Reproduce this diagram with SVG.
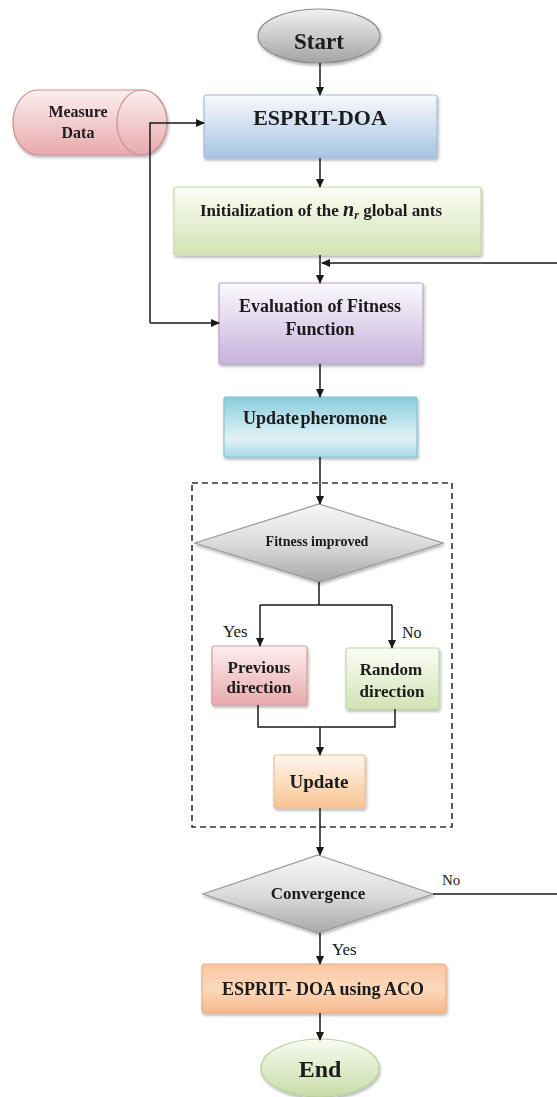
<svg xmlns="http://www.w3.org/2000/svg" width="557" height="1097" viewBox="0 0 557 1097">
<style>
.t{font-family:"Liberation Serif","Times New Roman",serif;font-weight:bold;fill:#1a1a1a;text-anchor:middle}
.l{font-family:"Liberation Serif","Times New Roman",serif;fill:#1a1a1a}
.c{fill:none;stroke:#1a1a1a;stroke-width:1.5}
.a{marker-end:url(#ah)}
.sh{filter:url(#ds)}
</style>
<defs>
<marker id="ah" markerWidth="9" markerHeight="8" refX="8" refY="4" orient="auto" markerUnits="userSpaceOnUse"><path d="M0,0 L9,4 L0,8 Z" fill="#1a1a1a"/></marker>
<filter id="ds" x="-10%" y="-10%" width="125%" height="130%"><feDropShadow dx="1" dy="2" stdDeviation="1.5" flood-color="#000" flood-opacity="0.3"/></filter>
<linearGradient id="gGray" x1="0" y1="0" x2="0" y2="1"><stop offset="0" stop-color="#f2f2f2"/><stop offset="1" stop-color="#a3a3a3"/></linearGradient>
<linearGradient id="gDia" x1="0" y1="0" x2="0" y2="1"><stop offset="0" stop-color="#f7f7f7"/><stop offset="0.5" stop-color="#dcdcdc"/><stop offset="1" stop-color="#a8a8a8"/></linearGradient>
<linearGradient id="gPink" x1="0" y1="0" x2="0" y2="1"><stop offset="0" stop-color="#fcefef"/><stop offset="1" stop-color="#e8a9ac"/></linearGradient>
<linearGradient id="gBlue" x1="0" y1="0" x2="0" y2="1"><stop offset="0" stop-color="#f7fafd"/><stop offset="1" stop-color="#a7c3e3"/></linearGradient>
<linearGradient id="gGreen" x1="0" y1="0" x2="0" y2="1"><stop offset="0" stop-color="#fbfdf6"/><stop offset="1" stop-color="#d2e3b3"/></linearGradient>
<linearGradient id="gPurp" x1="0" y1="0" x2="0" y2="1"><stop offset="0" stop-color="#fbf9fd"/><stop offset="1" stop-color="#c6b3dc"/></linearGradient>
<linearGradient id="gCyan" x1="0" y1="0" x2="0" y2="1"><stop offset="0" stop-color="#88cddd"/><stop offset="0.7" stop-color="#e2f3f7"/><stop offset="1" stop-color="#a6d8e5"/></linearGradient>
<linearGradient id="gOrL" x1="0" y1="0" x2="0" y2="1"><stop offset="0" stop-color="#fff6ee"/><stop offset="1" stop-color="#f8c592"/></linearGradient>
<linearGradient id="gOr" x1="0" y1="0" x2="0" y2="1"><stop offset="0" stop-color="#f9c6a0"/><stop offset="0.5" stop-color="#fbd9bd"/><stop offset="1" stop-color="#f6b88a"/></linearGradient>
<linearGradient id="gEnd" x1="0" y1="0" x2="0" y2="1"><stop offset="0" stop-color="#f7fbef"/><stop offset="1" stop-color="#c7dca8"/></linearGradient>
</defs>

<rect x="192" y="483" width="260" height="344" fill="none" stroke="#333" stroke-width="1.6" stroke-dasharray="6,4"/>

<g id="start" class="sh"><ellipse cx="319" cy="36" rx="61" ry="27" fill="url(#gGray)" stroke="#8c8c8c" stroke-width="1.2"/><text class="t" x="319" y="49" font-size="23">Start</text></g>

<g id="measure" class="sh">
<path d="M38,90 H142 A25,32.5 0 0 1 142,155 H38 A25,32.5 0 0 1 38,90 Z" fill="url(#gPink)" stroke="#c99294" stroke-width="1.2"/>
<ellipse cx="142" cy="122.5" rx="25" ry="32.5" fill="url(#gPink)" stroke="#c99294" stroke-width="1.2" fill-opacity="0.6"/>
<text class="t" x="78" y="117" font-size="16">Measure</text><text class="t" x="78" y="138" font-size="16">Data</text></g>

<g id="esprit" class="sh"><rect x="204" y="95" width="233" height="63" rx="2" fill="url(#gBlue)" stroke="#a6bcd8" stroke-width="1.2"/><text class="t" x="320" y="125" font-size="22">ESPRIT-DOA</text></g>

<g id="init" class="sh"><rect x="174" y="187" width="307" height="68" rx="2" fill="url(#gGreen)" stroke="#c9d9aa" stroke-width="1.2"/><text class="t" x="321" y="216" font-size="17">Initialization of the <tspan font-style="italic" font-size="20">n</tspan><tspan font-style="italic" font-size="12" dy="3">r</tspan><tspan dy="-3"> global ants</tspan></text></g>

<g id="eval" class="sh"><rect x="219" y="283" width="204" height="81" rx="2" fill="url(#gPurp)" stroke="#b6a6cc" stroke-width="1.2"/><text class="t" x="320" y="312" font-size="18">Evaluation of Fitness</text><text class="t" x="320" y="335" font-size="18">Function</text></g>

<g id="pher" class="sh"><rect x="224" y="397" width="193" height="60" rx="2" fill="url(#gCyan)" stroke="#86c3d3" stroke-width="1.2"/><text class="t" x="315" y="424" font-size="18" word-spacing="-3">Update pheromone</text></g>

<g id="fit" class="sh"><polygon points="319,504 443,543 319,582 195,543" fill="url(#gDia)" stroke="#9a9a9a" stroke-width="1.2"/><text class="t" x="317" y="546" font-size="14">Fitness improved</text></g>

<g id="prev" class="sh"><rect x="212" y="646" width="95" height="59" rx="2" fill="url(#gPink)" stroke="#d49ba0" stroke-width="1.2"/><text class="t" x="259" y="673" font-size="17">Previous</text><text class="t" x="259" y="693" font-size="17">direction</text></g>

<g id="rand" class="sh"><rect x="346" y="648" width="93" height="61" rx="2" fill="url(#gGreen)" stroke="#c2d6a4" stroke-width="1.2"/><text class="t" x="391" y="675" font-size="17">Random</text><text class="t" x="392" y="697" font-size="17">direction</text></g>

<g id="update" class="sh"><rect x="274" y="755" width="91" height="53" rx="2" fill="url(#gOrL)" stroke="#efbe92" stroke-width="1.2"/><text class="t" x="319" y="788" font-size="19">Update</text></g>

<g id="conv" class="sh"><polygon points="318,855 433,894 318,933 203,894" fill="url(#gDia)" stroke="#9a9a9a" stroke-width="1.2"/><text class="t" x="318" y="899" font-size="17">Convergence</text></g>

<g id="aco" class="sh"><rect x="202" y="964" width="244" height="49" rx="3" fill="url(#gOr)" stroke="#eeae7e" stroke-width="1.2"/><text class="t" x="323" y="995" font-size="18">ESPRIT- DOA using ACO</text></g>

<g id="end" class="sh"><ellipse cx="320" cy="1068" rx="59" ry="29" fill="url(#gEnd)" stroke="#b9cf9b" stroke-width="1.2"/><text class="t" x="320" y="1077" font-size="24">End</text></g>

<g id="connectors">
<path class="c a" d="M320,63 V95"/>
<path class="c a" d="M150,323 V123 H204"/>
<path class="c a" d="M150,323 H219"/>
<path class="c a" d="M320,158 V187"/>
<path class="c a" d="M320,255 V283"/>
<path class="c a" d="M433,894 H562 V263 H322"/>
<path class="c a" d="M320,364 V397"/>
<path class="c a" d="M320,457 V504"/>
<path class="c" d="M319,582 V605 M260,605 H392"/>
<path class="c a" d="M260,605 V646"/>
<path class="c a" d="M392,605 V648"/>
<path class="c" d="M258,705 V727 H395 V709"/>
<path class="c a" d="M320,727 V755"/>
<path class="c a" d="M320,808 V855"/>
<path class="c a" d="M320,933 V964"/>
<path class="c a" d="M320,1013 V1040"/>
<text class="l" x="223" y="637" font-size="17">Yes</text>
<text class="l" x="402" y="638" font-size="16">No</text>
<text class="l" x="442" y="885" font-size="15">No</text>
<text class="l" x="332" y="955" font-size="17">Yes</text>
</g>
</svg>
